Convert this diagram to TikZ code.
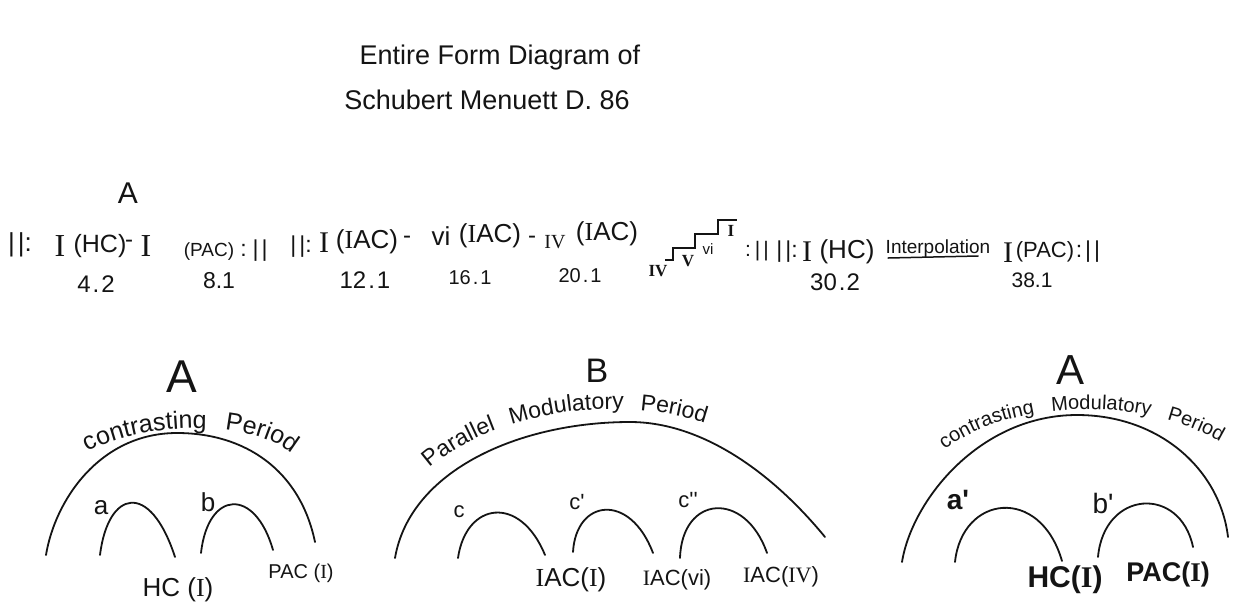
\documentclass[tikz,border=0pt]{standalone}
\usepackage{fontspec}
\setmainfont{Liberation Sans}
\newfontfamily\ser{Liberation Serif}
\usetikzlibrary{decorations.text}
\newcommand\fsz[1]{\fontsize{#1}{#1}\selectfont}
\newcommand\RI{{\ser I}}
\newcommand\tq{\textquotesingle}
\newcommand\bars{|\hspace{3pt}|}
\definecolor{ink}{HTML}{141414}
\begin{document}
\begin{tikzpicture}[x=1pt,y=-1pt,
  hand/.style={inner sep=0pt,outer sep=0pt,text=ink},
  arcline/.style={draw=ink,line width=1.8pt,line cap=round},
  thinline/.style={draw=ink,line width=1.5pt,line cap=round},
  curvetext/.style={decorate,decoration={text along path,text={#1},text align={fit to path stretching spaces}}}]
\fill[white] (0,0) rectangle (1252,606);
\useasboundingbox (0,0) rectangle (1252,606);

% title
\node[hand,font=\fsz{27}] (t1) at (500,58) {Entire Form Diagram of};
\node[hand,font=\fsz{27}] (t2) at (487,100) {Schubert Menuett D. 86};

% top row
\node[hand,font=\fsz{30}] (Atop) at (128,193) {A};
\node[hand,font=\fsz{26}] (r1) at (20,245) {\bars:};
\node[hand,font=\ser\fsz{32}] (r2) at (60,246) {I};
\node[hand,font=\fsz{25}] (r3) at (100,246) {(HC)};
\node[hand,font=\fsz{24}] (r4) at (129,244) {-};
\node[hand,font=\ser\fsz{32}] (r5) at (146,246) {I};
\node[hand,font=\fsz{19}] (r6) at (209,252) {(PAC)};
\node[hand,font=\fsz{23}] (r7) at (254,251) {:\hspace{6pt}\bars};
\node[hand,font=\fsz{23}] (r8) at (301,247) {\bars:};
\node[hand,font=\ser\fsz{30}] (r9) at (324,243) {I};
\node[hand,font=\fsz{26}] (r10) at (367,242) {(\RI AC)};
\node[hand,font=\fsz{24}] (r11) at (407,240) {-};
\node[hand,font=\fsz{26}] (r12) at (441,236) {vi};
\node[hand,font=\fsz{26}] (r13) at (490,236) {(\RI AC)};
\node[hand,font=\fsz{24}] (r14) at (532,240) {-};
\node[hand,font=\ser\fsz{20}] (r15) at (555,242) {IV};
\node[hand,font=\fsz{26}] (r16) at (607,234) {(\RI AC)};

% staircase
\coordinate (s0) at (665,260);
\coordinate (s1) at (673,260);
\coordinate (s2) at (673,248);
\coordinate (s3) at (695,248);
\coordinate (s4) at (695,234);
\coordinate (s5) at (718,234);
\coordinate (s6) at (718,220);
\coordinate (s7) at (737,220);
\draw[thinline,line cap=butt] (s0) -- (s1) -- (s2) -- (s3) -- (s4) -- (s5) -- (s6) -- (s7);
\node[hand,font=\ser\bfseries\fsz{17}] (st1) at (658,271) {IV};
\node[hand,font=\ser\bfseries\fsz{17}] (st2) at (688,261) {V};
\node[hand,font=\fsz{15}] (st3) at (708,249) {vi};
\node[hand,font=\ser\bfseries\fsz{17}] (st4) at (731,231) {I};

\node[hand,font=\fsz{21}] (r17) at (757,251) {:\hspace{4pt}\bars};
\node[hand,font=\fsz{23}] (r18) at (787,252) {\bars:};
\node[hand,font=\ser\fsz{30}] (r19) at (807,252) {I};
\node[hand,font=\fsz{26}] (r20) at (847,252) {(HC)};
\node[hand,font=\fsz{19}] (interp) at (938,249) {Interpolation};
\coordinate (u0) at (888,258);
\coordinate (u1) at (978,256);
\draw[thinline] (u0) -- (u1);
\node[hand,font=\ser\fsz{30}] (r21) at (1008,253) {I};
\node[hand,font=\fsz{22}] (r22) at (1045,252) {(PAC)};
\node[hand,font=\fsz{23}] (r23) at (1088,252) {:\hspace{3pt}\bars};

% measure numbers
\node[hand,font=\fsz{24}] (n42) at (96,284) {4\hspace{2pt}.\hspace{2pt}2};
\node[hand,font=\fsz{23}] (n81) at (219,281) {8.1};
\node[hand,font=\fsz{24}] (n121) at (365,280) {12\hspace{2pt}.\hspace{2pt}1};
\node[hand,font=\fsz{20}] (n161) at (470,278) {16\hspace{2pt}.\hspace{2pt}1};
\node[hand,font=\fsz{20}] (n201) at (580,276) {20\hspace{2pt}.\hspace{2pt}1};
\node[hand,font=\fsz{24}] (n302) at (835,282) {30\hspace{2pt}.\hspace{1pt}2};
\node[hand,font=\fsz{21}] (n381) at (1032,280) {38.1};

% ---- section A (left)
\node[hand,font=\fsz{46}] (A1) at (182,377) {A};
\draw[arcline] (46,555) .. controls (55,500) and (100,433) .. (177,433)
  .. controls (245,433) and (300,470) .. (315,542);
\path[curvetext={|\fsz{25}\color{ink}|contrasting Period}]
  (88,452) .. controls (140,422) and (250,418) .. (292,454);
\draw[arcline] (100,555) .. controls (108,490) and (150,480) .. (175,557);
\draw[arcline] (201,553) .. controls (208,490) and (255,487) .. (273,550);
\node[hand,font=\fsz{26}] (la) at (101,508) {a};
\node[hand,font=\fsz{26}] (lb) at (208,502) {b};
\node[hand,font=\fsz{26}] (l1) at (178,590) {HC (\RI)};
\node[hand,font=\fsz{20}] (l2) at (301,573) {PAC (\RI)};

% ---- section B (middle)
\node[hand,font=\fsz{34}] (B1) at (597,371) {B};
\draw[arcline] (395,558) .. controls (410,470) and (520,422) .. (630,422)
  .. controls (700,422) and (770,470) .. (825,537);
\path[curvetext={|\fsz{23}\color{ink}|Parallel Modulatory Period}]
  (430,468) .. controls (490,415) and (610,392) .. (705,423);
\draw[arcline] (458,558) .. controls (466,502) and (520,494) .. (545,555);
\draw[arcline] (573,552) .. controls (576,499) and (630,492) .. (653,553);
\draw[arcline] (680,558) .. controls (682,495) and (745,490) .. (767,553);
\node[hand,font=\fsz{22}] (lc) at (459,512) {c};
\node[hand,font=\fsz{22}] (lc1) at (577,502) {c\tq};
\node[hand,font=\fsz{22}] (lc2) at (688,500) {c\tq\tq};
\node[hand,font=\fsz{26}] (m1) at (571,580) {\RI AC(\RI)};
\node[hand,font=\fsz{22}] (m2) at (677,580) {\RI AC(vi)};
\node[hand,font=\fsz{22}] (m3) at (781,577) {\RI AC({\ser IV})};

% ---- section A (right)
\node[hand,font=\fsz{42}] (A2) at (1070,370) {A};
\draw[arcline] (902,562) .. controls (912,500) and (980,415) .. (1077,415)
  .. controls (1160,415) and (1220,470) .. (1228,537);
\path[curvetext={|\fsz{20}\color{ink}|contrasting Modulatory Period}]
  (945,450) .. controls (1000,405) and (1130,390) .. (1220,442);
\draw[arcline] (955,562) .. controls (962,495) and (1040,485) .. (1062,561);
\draw[arcline] (1098,557) .. controls (1104,490) and (1180,485) .. (1193,547);
\node[hand,font=\bfseries\fsz{28}] (ra) at (958,500) {a\tq};
\node[hand,font=\fsz{28}] (rb) at (1103,503) {b\tq};
\node[hand,font=\bfseries\fsz{30}] (h1) at (1065,580) {HC(\RI)};
\node[hand,font=\bfseries\fsz{27}] (h2) at (1168,575) {PAC(\RI)};
\end{tikzpicture}
\end{document}
